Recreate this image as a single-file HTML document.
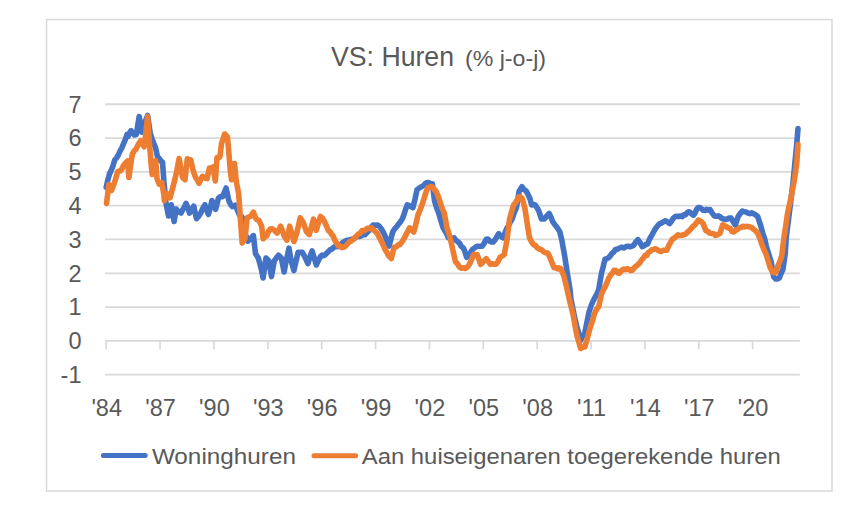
<!DOCTYPE html>
<html><head><meta charset="utf-8"><style>
html,body{margin:0;padding:0;background:#fff;width:858px;height:508px;overflow:hidden}
svg{display:block;font-family:"Liberation Sans",sans-serif}
</style></head><body>
<svg width="858" height="508" viewBox="0 0 858 508">
<rect x="46.5" y="19.5" width="785.5" height="471.5" fill="#fff" stroke="#d9d9d9" stroke-width="1.5"/>
<line x1="105.1" y1="374.71" x2="799.8" y2="374.71" stroke="#d9d9d9" stroke-width="1.8"/>
<text x="81.5" y="383.01" text-anchor="end" font-size="23.5" fill="#595959">-1</text>
<line x1="105.1" y1="340.90" x2="799.8" y2="340.90" stroke="#d9d9d9" stroke-width="1.8"/>
<text x="81.5" y="349.20" text-anchor="end" font-size="23.5" fill="#595959">0</text>
<line x1="105.1" y1="307.09" x2="799.8" y2="307.09" stroke="#d9d9d9" stroke-width="1.8"/>
<text x="81.5" y="315.39" text-anchor="end" font-size="23.5" fill="#595959">1</text>
<line x1="105.1" y1="273.28" x2="799.8" y2="273.28" stroke="#d9d9d9" stroke-width="1.8"/>
<text x="81.5" y="281.58" text-anchor="end" font-size="23.5" fill="#595959">2</text>
<line x1="105.1" y1="239.47" x2="799.8" y2="239.47" stroke="#d9d9d9" stroke-width="1.8"/>
<text x="81.5" y="247.77" text-anchor="end" font-size="23.5" fill="#595959">3</text>
<line x1="105.1" y1="205.66" x2="799.8" y2="205.66" stroke="#d9d9d9" stroke-width="1.8"/>
<text x="81.5" y="213.96" text-anchor="end" font-size="23.5" fill="#595959">4</text>
<line x1="105.1" y1="171.85" x2="799.8" y2="171.85" stroke="#d9d9d9" stroke-width="1.8"/>
<text x="81.5" y="180.15" text-anchor="end" font-size="23.5" fill="#595959">5</text>
<line x1="105.1" y1="138.04" x2="799.8" y2="138.04" stroke="#d9d9d9" stroke-width="1.8"/>
<text x="81.5" y="146.34" text-anchor="end" font-size="23.5" fill="#595959">6</text>
<line x1="105.1" y1="104.23" x2="799.8" y2="104.23" stroke="#d9d9d9" stroke-width="1.8"/>
<text x="81.5" y="112.53" text-anchor="end" font-size="23.5" fill="#595959">7</text>
<line x1="106.20" y1="340.9" x2="106.20" y2="349.2" stroke="#d9d9d9" stroke-width="1.7"/>
<text x="106.70" y="416.2" text-anchor="middle" font-size="23.5" fill="#595959">'84</text>
<line x1="160.07" y1="340.9" x2="160.07" y2="349.2" stroke="#d9d9d9" stroke-width="1.7"/>
<text x="160.57" y="416.2" text-anchor="middle" font-size="23.5" fill="#595959">'87</text>
<line x1="213.94" y1="340.9" x2="213.94" y2="349.2" stroke="#d9d9d9" stroke-width="1.7"/>
<text x="214.44" y="416.2" text-anchor="middle" font-size="23.5" fill="#595959">'90</text>
<line x1="267.81" y1="340.9" x2="267.81" y2="349.2" stroke="#d9d9d9" stroke-width="1.7"/>
<text x="268.31" y="416.2" text-anchor="middle" font-size="23.5" fill="#595959">'93</text>
<line x1="321.68" y1="340.9" x2="321.68" y2="349.2" stroke="#d9d9d9" stroke-width="1.7"/>
<text x="322.18" y="416.2" text-anchor="middle" font-size="23.5" fill="#595959">'96</text>
<line x1="375.55" y1="340.9" x2="375.55" y2="349.2" stroke="#d9d9d9" stroke-width="1.7"/>
<text x="376.05" y="416.2" text-anchor="middle" font-size="23.5" fill="#595959">'99</text>
<line x1="429.42" y1="340.9" x2="429.42" y2="349.2" stroke="#d9d9d9" stroke-width="1.7"/>
<text x="429.92" y="416.2" text-anchor="middle" font-size="23.5" fill="#595959">'02</text>
<line x1="483.29" y1="340.9" x2="483.29" y2="349.2" stroke="#d9d9d9" stroke-width="1.7"/>
<text x="483.79" y="416.2" text-anchor="middle" font-size="23.5" fill="#595959">'05</text>
<line x1="537.16" y1="340.9" x2="537.16" y2="349.2" stroke="#d9d9d9" stroke-width="1.7"/>
<text x="537.66" y="416.2" text-anchor="middle" font-size="23.5" fill="#595959">'08</text>
<line x1="591.03" y1="340.9" x2="591.03" y2="349.2" stroke="#d9d9d9" stroke-width="1.7"/>
<text x="591.53" y="416.2" text-anchor="middle" font-size="23.5" fill="#595959">'11</text>
<line x1="644.90" y1="340.9" x2="644.90" y2="349.2" stroke="#d9d9d9" stroke-width="1.7"/>
<text x="645.40" y="416.2" text-anchor="middle" font-size="23.5" fill="#595959">'14</text>
<line x1="698.77" y1="340.9" x2="698.77" y2="349.2" stroke="#d9d9d9" stroke-width="1.7"/>
<text x="699.27" y="416.2" text-anchor="middle" font-size="23.5" fill="#595959">'17</text>
<line x1="752.64" y1="340.9" x2="752.64" y2="349.2" stroke="#d9d9d9" stroke-width="1.7"/>
<text x="753.14" y="416.2" text-anchor="middle" font-size="23.5" fill="#595959">'20</text>
<polyline points="106.2,187.4 107.8,180.0 109.5,174.0 111.2,170.4 113.0,165.8 114.7,160.0 116.5,158.0 118.3,155.0 120.0,151.1 121.8,148.0 123.5,143.8 125.3,139.7 127.0,134.5 128.0,136.4 129.5,133.4 131.0,130.6 132.8,133.1 134.6,135.0 136.4,134.3 139.2,116.5 142.0,132.2 143.9,127.2 145.7,120.3 147.6,115.5 150.3,133.6 152.9,141.4 155.7,148.3 157.7,157.9 159.3,158.4 160.9,161.2 162.5,162.0 163.9,181.3 166.0,203.4 168.5,216.0 171.3,204.8 174.1,221.5 176.2,209.0 178.3,211.7 181.1,213.1 182.7,209.7 184.4,207.1 186.0,203.4 187.8,207.4 189.5,213.1 191.6,209.6 193.7,206.2 196.5,218.7 198.6,216.3 200.7,213.1 202.8,208.5 204.9,204.8 206.7,210.5 208.4,214.5 210.2,208.3 211.9,200.6 213.8,204.2 215.6,209.4 218.4,198.2 220.5,196.6 222.6,196.8 224.3,192.5 226.1,188.0 228.9,201.0 230.7,204.6 232.4,206.6 235.2,205.2 237.3,209.9 239.4,215.0 241.5,216.6 243.6,219.2 245.0,233.1 247.8,241.2 250.6,238.4 253.4,235.6 255.5,253.8 258.3,258.0 261.0,267.8 263.1,278.0 266.0,258.0 268.7,260.8 271.5,276.6 274.3,260.8 276.4,257.9 278.5,255.2 281.3,258.0 284.1,272.0 285.7,263.2 287.4,255.6 289.0,248.2 291.1,260.8 293.9,270.6 296.0,261.4 298.1,252.4 300.2,252.4 302.3,252.4 304.2,255.7 306.0,259.4 307.9,263.6 310.0,256.8 312.1,251.0 314.2,257.9 316.3,265.0 318.4,260.4 320.5,256.6 322.2,255.0 323.9,255.7 325.6,254.3 327.7,252.3 329.8,250.1 331.9,249.0 334.0,247.3 335.8,246.0 337.5,246.8 339.2,245.8 341.0,244.5 342.9,242.4 344.7,241.4 346.6,240.3 348.5,240.3 350.3,239.8 352.2,239.0 354.1,238.9 355.9,237.0 357.8,236.2 359.6,236.4 361.3,235.8 363.1,234.8 364.8,234.8 366.5,233.0 368.1,231.6 369.8,229.5 371.4,227.0 373.1,225.0 375.2,225.2 377.3,225.0 379.4,226.3 381.5,229.2 383.6,232.9 385.7,237.6 387.4,242.3 389.2,246.0 390.9,238.8 392.7,232.0 394.8,228.6 396.9,226.4 398.7,223.9 400.6,221.6 402.4,218.7 404.0,214.4 405.7,209.2 407.3,204.8 409.2,205.6 411.0,206.7 412.9,207.6 415.0,199.1 417.1,189.5 418.7,188.5 420.4,187.3 422.0,186.5 423.6,185.5 425.1,183.7 426.7,182.7 428.3,182.5 430.4,183.5 432.4,183.8 434.5,200.6 436.6,207.7 438.7,213.1 440.8,220.3 442.9,227.1 444.7,230.5 446.6,233.6 448.4,237.8 450.3,237.8 452.1,238.7 454.0,237.8 455.9,240.2 457.7,241.6 459.6,243.4 461.2,246.3 462.9,247.5 464.5,250.3 466.6,257.3 468.2,255.2 469.8,254.0 471.3,251.2 472.9,249.0 474.5,248.0 476.2,246.7 477.8,246.2 479.9,246.3 482.0,246.2 484.1,243.5 486.2,239.2 487.9,239.0 489.6,241.1 491.4,241.9 493.1,242.0 495.0,239.9 496.8,236.8 498.7,233.6 500.8,236.3 502.9,237.8 504.8,233.3 506.6,228.7 508.5,225.6 510.3,222.1 512.2,219.0 514.3,212.6 516.4,207.8 519.2,191.0 522.0,186.8 524.1,189.6 526.2,191.0 528.0,194.6 529.7,198.0 531.7,205.0 533.5,204.5 535.2,205.0 537.0,207.8 538.7,210.6 541.5,219.0 544.3,219.0 545.9,217.1 547.6,215.0 549.2,213.4 551.0,217.3 552.7,221.7 554.8,224.6 556.9,227.3 559.7,231.5 561.7,239.6 564.5,255.0 567.3,273.1 570.1,290.0 570.8,298.2 572.9,308.9 575.0,319.2 576.8,326.5 578.7,333.3 580.5,340.5 582.6,336.0 584.8,333.1 586.9,322.2 589.0,312.2 591.0,306.0 593.1,301.0 595.0,297.4 596.8,294.2 598.7,289.8 601.5,273.1 603.2,266.7 605.0,259.2 606.6,258.8 608.3,257.9 609.9,256.4 611.8,253.6 613.6,252.3 615.5,249.4 617.6,249.0 619.7,248.0 621.8,247.2 623.9,248.0 625.8,246.7 627.6,246.2 629.5,246.6 631.6,246.4 633.7,245.2 635.8,241.9 637.9,239.6 640.0,242.4 642.1,246.6 644.0,245.9 645.8,244.5 647.7,243.8 649.3,239.7 651.0,236.6 652.6,233.9 654.2,230.6 656.1,227.7 657.9,225.5 659.8,223.6 661.7,223.0 663.5,221.7 665.4,220.8 667.5,221.9 669.6,223.6 671.5,221.2 673.3,218.1 675.2,216.6 677.0,216.4 678.7,216.5 680.5,216.0 682.2,216.6 683.8,214.7 685.4,214.9 686.9,212.9 688.5,211.7 690.1,212.3 691.8,214.2 693.4,215.2 695.0,213.2 696.7,209.2 698.3,207.5 699.9,207.6 701.5,208.7 703.1,210.3 704.9,210.5 706.6,209.3 708.4,210.1 710.1,209.6 712.2,213.1 714.3,215.9 716.2,216.2 718.0,215.9 719.9,216.6 721.8,218.4 723.6,219.0 725.5,219.4 727.4,219.0 729.2,218.0 731.1,218.0 733.2,221.8 735.3,225.0 738.1,216.6 740.2,213.6 742.3,211.0 744.2,211.8 746.0,212.1 747.9,213.1 749.8,213.6 751.6,212.8 753.5,213.8 755.6,214.8 757.7,216.6 760.5,225.0 762.6,232.8 764.7,239.0 766.2,245.7 767.8,251.0 769.5,256.5 771.3,262.6 773.6,276.6 775.9,279.0 777.6,279.0 779.4,277.8 781.1,273.4 782.9,269.6 785.3,253.3 786.2,238.0 788.6,219.0 791.2,197.8 792.9,183.2 794.5,167.0 796.8,143.6 798.0,128.5" fill="none" stroke="#4472c4" stroke-width="5.6" stroke-linejoin="round" stroke-linecap="round"/>
<polyline points="106.5,203.5 108.9,184.5 111.5,190.5 114.0,183.8 115.8,178.4 117.7,171.4 119.8,171.1 121.8,169.2 123.5,165.5 125.3,163.3 127.7,161.0 128.9,177.5 130.7,164.5 132.4,154.0 134.2,150.9 136.0,149.2 138.3,144.4 140.7,140.9 142.4,144.5 144.2,146.8 145.9,132.1 147.6,116.5 149.2,138.9 150.8,160.7 152.2,174.4 153.9,167.2 155.7,160.7 157.0,178.6 159.1,184.1 161.9,182.7 163.9,195.1 164.3,200.6 167.1,193.6 170.0,197.8 172.7,188.0 174.4,181.2 176.2,174.0 179.1,158.5 180.8,168.1 182.6,177.4 185.0,179.8 187.3,158.8 189.1,159.5 190.8,160.0 193.1,170.5 195.5,177.4 197.2,179.7 199.0,183.3 200.7,179.7 202.4,176.3 204.0,176.9 205.5,178.2 207.1,178.6 209.4,168.1 211.2,168.4 212.9,167.0 215.3,181.0 217.0,157.6 218.5,157.9 220.0,156.5 221.5,143.6 223.1,138.9 224.6,134.0 227.5,137.0 230.4,171.6 231.6,179.8 234.5,163.5 236.2,181.0 238.7,194.0 240.1,215.0 242.2,243.0 245.0,238.7 247.1,217.8 248.8,217.0 250.6,216.4 253.4,212.2 256.2,219.2 259.0,220.6 261.7,226.2 263.1,238.7 264.9,236.9 266.6,235.9 268.4,231.6 270.1,229.0 272.2,228.8 274.3,230.3 277.1,233.1 278.9,229.6 280.6,226.2 282.4,230.7 284.1,235.9 286.9,240.1 289.7,226.2 291.8,233.6 293.9,241.5 296.7,233.1 298.4,226.2 300.2,217.8 303.0,222.0 304.8,226.9 306.5,231.7 309.3,234.5 311.4,227.0 313.5,219.2 316.3,230.3 318.4,222.9 320.5,216.5 322.6,218.4 324.7,222.0 326.5,226.0 328.4,230.6 330.0,231.8 331.7,234.4 333.3,236.2 334.9,240.4 336.6,243.0 338.2,246.0 340.1,245.9 341.9,247.6 343.8,247.3 345.7,246.0 347.5,244.0 349.4,241.7 351.1,241.1 352.9,239.4 354.6,238.1 356.4,236.2 358.3,234.1 360.1,233.3 362.0,230.6 364.1,230.7 366.2,229.2 368.0,228.1 369.9,228.7 371.7,227.8 373.6,230.1 375.4,231.5 377.3,233.4 379.2,237.2 381.0,240.8 382.9,244.5 384.8,249.0 386.6,252.0 388.5,255.7 391.3,258.5 394.1,247.3 396.0,247.0 397.8,245.2 399.7,244.5 401.6,242.4 403.4,239.7 405.3,236.2 407.4,231.9 409.5,227.8 411.6,230.0 413.7,232.0 415.8,224.4 417.9,215.2 419.9,210.4 422.0,204.8 423.9,199.2 425.7,193.1 427.6,188.0 429.6,186.9 431.7,186.5 433.8,189.0 435.9,190.8 438.0,195.8 440.1,202.0 442.2,208.3 444.3,213.1 447.0,228.0 449.8,236.4 452.6,249.0 455.4,261.5 457.5,263.9 459.6,267.1 461.5,268.3 463.3,267.7 465.2,268.5 467.3,267.2 469.4,264.3 471.5,259.8 473.6,254.5 475.4,254.5 477.1,254.5 478.9,259.4 480.6,264.3 482.5,262.7 484.3,260.7 486.2,258.7 488.2,261.2 490.3,264.3 492.2,263.8 494.0,264.3 495.9,264.3 498.0,261.6 500.1,257.3 502.2,256.1 504.3,254.5 507.1,239.2 509.5,219.5 511.6,211.5 513.6,205.0 515.5,202.8 517.3,199.8 519.2,196.6 522.0,198.0 524.8,207.8 527.6,226.0 529.5,237.8 531.6,242.0 533.7,244.8 535.6,245.6 537.4,248.0 539.3,249.0 541.4,249.6 543.5,251.7 545.6,252.7 547.7,253.1 549.5,256.4 551.2,260.6 554.0,267.6 555.8,267.5 557.5,269.0 559.2,267.9 561.0,269.0 563.8,275.9 566.6,287.0 569.0,298.0 571.1,306.5 573.2,315.0 575.1,326.1 577.0,336.0 578.8,341.8 580.6,348.5 582.7,347.2 584.8,347.0 586.9,340.0 589.0,331.7 590.8,325.5 592.7,320.0 594.5,313.6 596.6,309.3 598.7,306.6 601.5,294.0 603.6,289.6 605.7,285.6 608.5,278.7 610.4,275.3 612.2,273.4 614.1,270.3 616.0,270.5 617.8,273.0 619.7,273.1 621.8,270.2 623.9,269.0 625.6,269.7 627.3,268.7 628.9,269.3 630.6,270.6 632.3,270.3 634.2,267.8 636.0,266.1 637.9,264.8 639.8,262.8 641.6,259.9 643.5,257.8 645.1,255.4 646.8,255.5 648.4,252.4 650.0,251.5 651.9,249.7 653.7,249.4 655.6,248.7 657.5,249.8 659.3,251.0 661.2,251.5 663.1,250.3 664.9,250.3 666.8,250.1 668.7,245.6 670.5,242.6 672.4,239.0 674.3,238.1 676.1,236.6 678.0,234.8 679.9,235.5 681.7,235.3 683.6,234.8 685.5,234.1 687.3,232.4 689.2,230.6 691.1,228.7 692.9,226.4 694.8,225.0 696.5,222.8 698.3,220.1 699.9,220.9 701.5,221.7 703.1,223.6 705.9,230.6 707.8,231.4 709.6,233.1 711.5,233.4 713.6,233.8 715.7,235.5 717.8,234.6 719.9,233.4 722.7,225.0 724.6,225.7 726.4,226.9 728.3,227.8 730.2,228.6 732.0,231.4 733.9,232.0 735.8,230.2 737.6,229.4 739.5,227.8 741.2,227.3 743.0,226.2 744.8,226.9 746.5,226.4 748.2,226.5 750.0,227.0 751.8,227.7 753.5,229.2 755.6,230.7 757.7,233.4 759.8,238.2 761.9,244.5 764.0,249.6 766.1,254.3 768.1,260.8 770.1,267.3 772.4,272.0 774.1,272.9 775.9,272.0 778.3,265.0 780.0,261.1 781.8,255.6 783.9,238.0 785.6,227.0 787.4,214.3 789.2,205.6 791.0,197.8 792.8,188.3 794.5,179.0 796.8,162.5 798.0,144.5" fill="none" stroke="#ed7d31" stroke-width="5.6" stroke-linejoin="round" stroke-linecap="round"/>
<text x="331" y="65.8" font-size="27.5" fill="#595959" textLength="123" lengthAdjust="spacingAndGlyphs">VS: Huren</text>
<text x="465" y="66.4" font-size="22.5" fill="#595959" textLength="81" lengthAdjust="spacingAndGlyphs">(% j-o-j)</text>
<line x1="103.4" y1="455.6" x2="145.2" y2="455.6" stroke="#4472c4" stroke-width="5" stroke-linecap="round"/>
<text x="151.9" y="463.5" font-size="22" fill="#595959" textLength="144" lengthAdjust="spacingAndGlyphs">Woninghuren</text>
<line x1="314" y1="455.7" x2="355.6" y2="455.7" stroke="#ed7d31" stroke-width="5" stroke-linecap="round"/>
<text x="361.8" y="463.5" font-size="22" fill="#595959" textLength="419" lengthAdjust="spacingAndGlyphs">Aan huiseigenaren toegerekende huren</text>
</svg>
</body></html>
